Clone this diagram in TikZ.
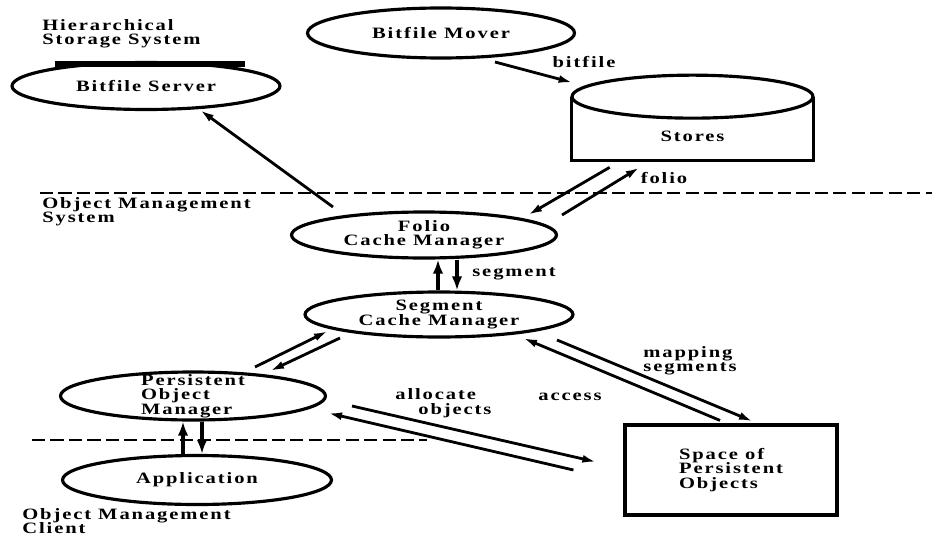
\documentclass[tikz,border=0pt]{standalone}
\usepackage{fontspec}
\setmainfont{Liberation Serif}[FakeStretch=1.3,LetterSpace=12]
\usetikzlibrary{shapes.geometric}
\usetikzlibrary{arrows.meta}

\begin{document}
\begin{tikzpicture}[x=0.02cm,y=-0.02cm,
	every node/.style={font={\fontsize{9}{8.2}\selectfont\bfseries\lineskiplimit=-4pt\relax}},
	oval/.style={draw,ellipse,line width=1.8pt,inner sep=0pt},
	box/.style={draw,rectangle,line width=1.8pt,align=left},
	tag/.style={inner sep=0pt,align=left},
	flow/.style={line width=1.6pt,-{Latex[length=8pt,width=4.5pt]}},
	bigflow/.style={line width=2.6pt,-{Latex[length=8pt,width=6pt]}},
	cut/.style={line width=1.4pt,dash pattern=on 7.5pt off 3pt}]
	\useasboundingbox (0,0) rectangle (932,537);
	%% boxes
	\node[oval,minimum width=5.36cm,minimum height=0.94cm] (a1) at (146,86) {Bitfile Server\hspace{0.24cm}};
	\node[oval,minimum width=5.34cm,minimum height=1cm] (a2) at (441,33) {Bitfile Mover\hspace{0.84cm}};
	\node[minimum width=4.82cm,minimum height=0.96cm] (a3) at (692.5,136) {Stores};
	\node[oval,minimum width=5.3cm,minimum height=0.92cm,align=center] (a4) at (424,235) {Folio\\Cache Manager};
	\node[oval,minimum width=5.36cm,minimum height=0.9cm,align=center] (a5) at (439,314.5) {Segment\\Cache Manager};
	\node[oval,minimum width=5.3cm,minimum height=0.96cm,align=left,inner ysep=-4pt] (a6) at (193,396) {Persistent\\Object\\Manager};
	\node[oval,minimum width=5.38cm,minimum height=0.98cm] (a7) at (197,480) {Application\hspace{0.52cm}};
	\node[box,minimum width=4.24cm,minimum height=1.8cm] (a8) at (731,470) {Space of\\Persistent\\Objects\hspace{0.35cm}};
	% drum round Stores
	\draw[line width=1.8pt] ([shift={(0,-15)}]a3.north west) -- (a3.south west) -- (a3.south east) -- ([shift={(0,-15)}]a3.north east);
	\draw[line width=1.8pt] ([shift={(0,-15)}]a3.north) ellipse [x radius=2.41cm,y radius=0.43cm];
	\draw[line width=3pt] ([shift={(-91,-22)}]a1.center) -- ([shift={(99,-22)}]a1.center);
	%% texts
	\node[tag,anchor=west] (t1) at (42,34) {Hierarchical\\Storage System};
	\node[tag,anchor=west] (t2) at (42,212) {Object Management\\System};
	\node[tag,anchor=west] (t3) at (22,521) {Object Management\\Client};
	\node (t4) at (584,62) {bitfile};
	\node (t5) at (664,178) {folio};
	\node (t6) at (514,274) {segment};
	\node[tag,anchor=west] (t7) at (395,403) {allocate\\\hspace*{0.46cm}objects};
	\node (t8) at (570,397) {access};
	\node[tag,anchor=west] (t9) at (643,361) {mapping\\segments};
	% borders
	\draw[cut] (40,193) -- (932,193);
	\draw[cut] (32,440) -- (427,440);
	%% arrows
	\draw[flow] ([shift={(54,29)}]a2.center) -- ([shift={(1,-29)}]a3.north west);
	\draw[flow] ([shift={(-91,-28)}]a4.center) -- ([shift={(54,24)}]a1.center);
	\draw[flow] ([shift={(38,7)}]a3.south west) -- ([shift={(104,-20)}]a4.center);
	\draw[flow] ([shift={(138,-20)}]a4.center) -- ([shift={(68,7)}]a3.south west);
	\draw[bigflow] ([shift={(-1,0)}]a5.north) -- ([shift={(14,0)}]a4.south);
	\draw[bigflow] ([shift={(33,0)}]a4.south) -- ([shift={(18,0)}]a5.north);
	\draw[flow] ([shift={(62,-29)}]a6.center) -- ([shift={(-111,16.5)}]a5.center);
	\draw[flow] ([shift={(-99,23.5)}]a5.center) -- ([shift={(77,-25)}]a6.center);
	\draw[bigflow] ([shift={(-14,0)}]a7.north) -- ([shift={(-10,0)}]a6.south);
	\draw[bigflow] ([shift={(9,0)}]a6.south) -- ([shift={(5,0)}]a7.north);
	\draw[flow] ([shift={(159,10)}]a6.center) -- ([shift={(-27,-8)}]a8.west);
	\draw[flow] ([shift={(-50,0)}]a8.west) -- ([shift={(135,17)}]a6.center);
	\draw[flow] ([shift={(-11,-3)}]a8.north) -- ([shift={(84,23.5)}]a5.center);
	\draw[flow] ([shift={(118,25.5)}]a5.center) -- ([shift={(22,-2)}]a8.north);
\end{tikzpicture}
\end{document}
